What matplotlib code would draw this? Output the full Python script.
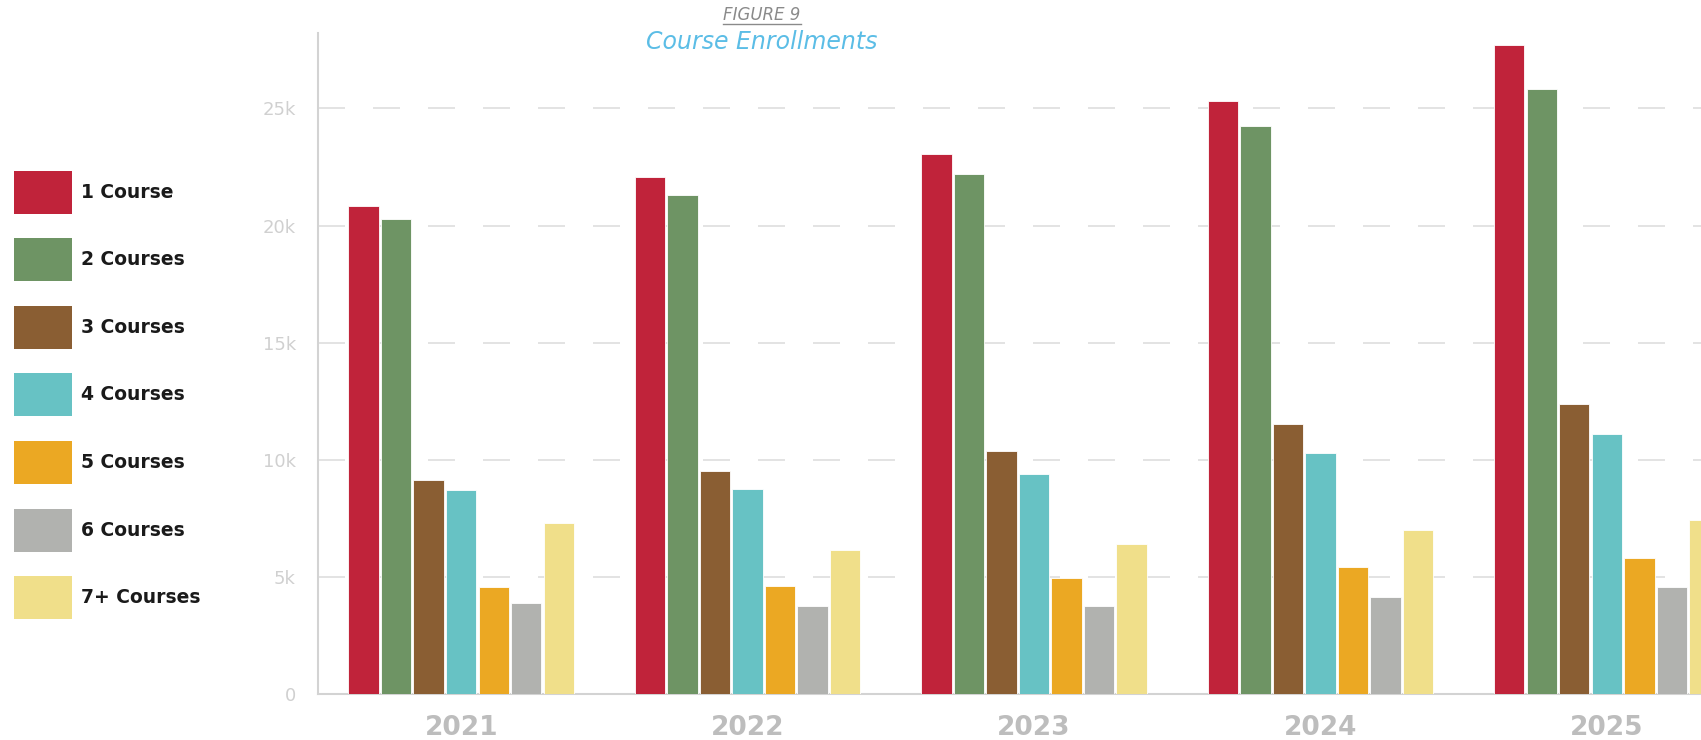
import matplotlib
matplotlib.use("Agg")
import matplotlib.pyplot as plt
import numpy as np
from matplotlib.patches import Rectangle

years = ["2021", "2022", "2023", "2024", "2025"]
series = ["1 Course", "2 Courses", "3 Courses", "4 Courses", "5 Courses", "6 Courses", "7+ Courses"]
colors = ["#C0233A", "#6E9464", "#8A5E33", "#67C2C4", "#EBA823", "#B1B2AF", "#F0DF8A"]

one_course    = [20830, 22080, 23060, 25320, 27690]
two_courses   = [20280, 21300, 22220, 24260, 25830]
three_courses = [9120, 9540, 10370, 11530, 12360]
four_courses  = [8700, 8750, 9400, 10280, 11110]
five_courses  = [4580, 4630, 4950, 5420, 5790]
six_courses   = [3890, 3750, 3750, 4120, 4580]
seven_plus    = [7310, 6160, 6390, 6990, 7410]

y_ticks = [0, 5000, 10000, 15000, 20000, 25000]
y_tick_labels = ["0", "5k", "10k", "15k", "20k", "25k"]

values = [one_course, two_courses, three_courses, four_courses,
          five_courses, six_courses, seven_plus]

W, H = 1701, 740
fig = plt.figure(figsize=(W / 100, H / 100), dpi=100)

# axes: left spine at x=318px, zero line at y=694px, top at y=32.5px,
# one category = 286.4px; the plot runs off the right edge of the figure
unit = 286.4
ax_left = 318 / W
ax_bottom = (H - 694) / H
ax_height = (694 - 32.5) / H
ax_width = (W - 318) / W
ax = fig.add_axes([ax_left, ax_bottom, ax_width, ax_height])

x = np.arange(len(years))
step = 0.1136
bw = 0.106
for i, (name, vals, c) in enumerate(zip(series, values, colors)):
    ax.bar(x + (i - 3) * step, vals, width=bw, color=c, edgecolor="white",
           linewidth=0.6, zorder=3, label=name)

ax.set_xlim(-0.5, -0.5 + (W - 318) / unit)
ax.set_ylim(0, 28240)
ax.set_yticks(y_ticks)
ax.set_yticklabels(y_tick_labels)
ax.set_xticks(x)
ax.set_xticklabels(years)

# dashed horizontal grid
ax.grid(False)
ax.hlines([t for t in y_ticks if t > 0], 0, 1, transform=ax.get_yaxis_transform(),
          colors="#e3e3e3", linewidth=1.44, linestyles=[(0, (13.5, 14))], zorder=0.5)

for s in ["top", "right"]:
    ax.spines[s].set_visible(False)
for s in ["left", "bottom"]:
    ax.spines[s].set_color("#d3d3d3")
    ax.spines[s].set_linewidth(1.5)

ax.tick_params(axis="y", length=0, pad=16, labelsize=13, labelcolor="#d0d0d0")
ax.tick_params(axis="x", length=0, pad=15, labelsize=19, labelcolor="#bdbdbd")
for lbl in ax.get_xticklabels():
    lbl.set_fontweight("bold")

# Titles
cx = 762 / W
t1 = fig.text(cx, 1 - 15 / H, "FIGURE 9", ha="center", va="center", fontsize=12,
              style="italic", color="#8a8a8a", family="DejaVu Sans")
fig.text(cx, 1 - 42 / H, "Course Enrollments", ha="center", va="center", fontsize=17,
         style="italic", color="#5BBDE6", family="DejaVu Sans")
fig.canvas.draw()
bb = t1.get_window_extent().transformed(fig.transFigure.inverted())
fig.add_artist(plt.Line2D([bb.x0, bb.x1], [1 - 24 / H, 1 - 24 / H],
                          color="#8a8a8a", linewidth=1, transform=fig.transFigure))

# Legend
sq_x, sq_w, sq_h = 14, 57.5, 43
row0, pitch = 192, 67.6
for i, (name, c) in enumerate(zip(series, colors)):
    yc = row0 + i * pitch
    fig.add_artist(Rectangle((sq_x / W, 1 - (yc + sq_h / 2) / H), sq_w / W, sq_h / H,
                             transform=fig.transFigure, facecolor=c, edgecolor="none"))
    fig.text(81 / W, 1 - yc / H, name, ha="left", va="center", fontsize=13.5,
             fontweight="bold", color="#1a1a1a")

fig.savefig("out.png", dpi=100)
